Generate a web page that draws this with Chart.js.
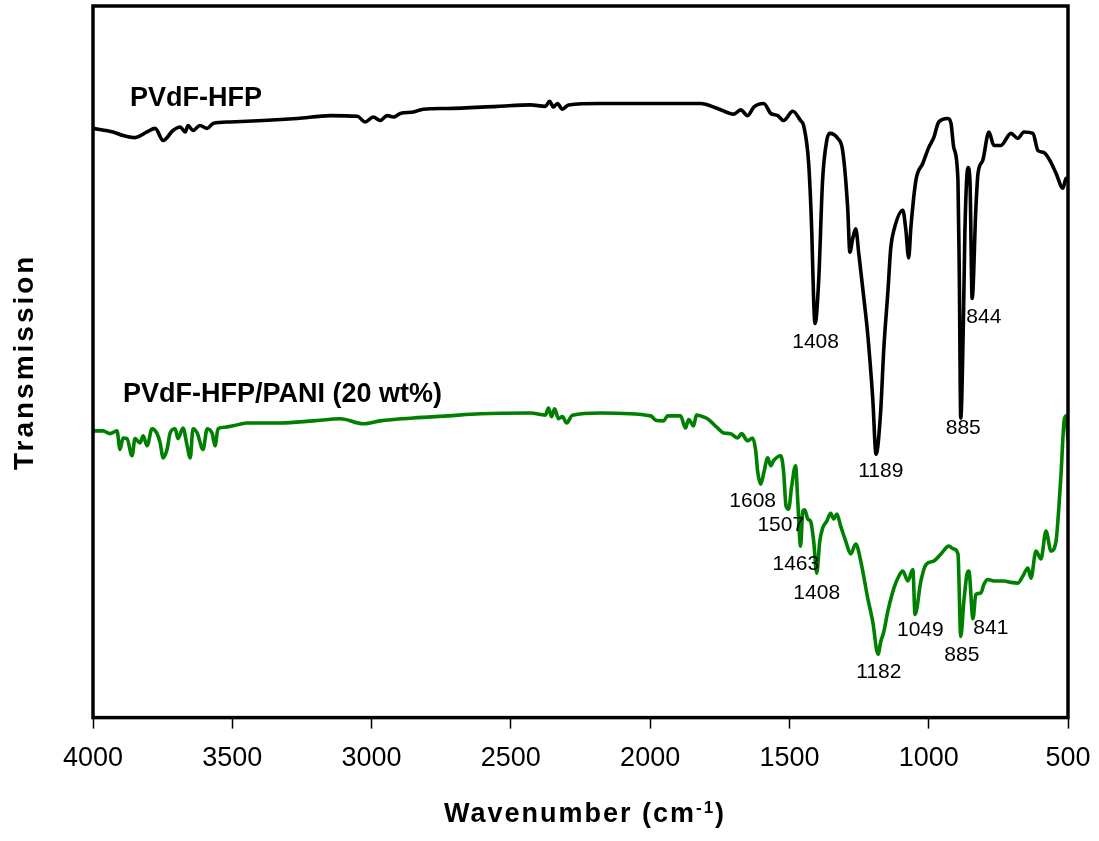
<!DOCTYPE html>
<html>
<head>
<meta charset="utf-8">
<script src="https://cdn.jsdelivr.net/npm/chart.js@4.4.1/dist/chart.umd.min.js"></script>
<style>
  html, body { margin: 0; padding: 0; background: #fff; }
  #wrap { width: 1099px; height: 841px; }
</style>
</head>
<body>
<div id="wrap"><canvas id="ftir" width="1099" height="841"></canvas></div>
<script>
// FTIR spectra, wavenumber (cm-1) vs transmission (arbitrary units, 0-100 on the hidden axis)
const pvdfWn = [4000, 3928, 3892, 3849, 3806, 3777, 3748, 3713, 3687, 3669, 3659, 3641, 3616, 3590, 3569, 3508, 3389, 3267, 3148, 3051,
  3023, 2994, 2969, 2944, 2922, 2897, 2850, 2814, 2728, 2548, 2430, 2376, 2361, 2347, 2333, 2315, 2293, 2178, 1855, 1819,
  1758, 1700, 1675, 1650, 1628, 1592, 1567, 1542, 1521, 1488, 1460, 1449, 1431, 1420, 1413, 1408, 1395, 1381, 1366, 1355,
  1327, 1309, 1291, 1283, 1273, 1262, 1251, 1233, 1219, 1201, 1189, 1173, 1161, 1147, 1136, 1125, 1093, 1082, 1072, 1064,
  1046, 1021, 1000, 982, 964, 931, 920, 910, 895, 890, 885, 875, 870, 859, 852, 844, 831, 823, 806, 784,
  766, 741, 705, 680, 658, 626, 608, 586, 561, 543, 518, 507, 500];
const pvdfT = [82.8, 82.3, 81.8, 81.5, 82.3, 82.8, 81.1, 82.5, 83.0, 82.3, 83.2, 82.5, 83.2, 82.8, 83.5, 83.7, 83.9, 84.2, 84.6, 84.5,
  83.7, 84.4, 83.9, 84.6, 84.4, 84.9, 85.1, 85.5, 85.6, 85.9, 86.1, 85.9, 86.6, 85.8, 86.3, 85.5, 86.1, 86.3, 86.3, 86.3,
  85.6, 84.8, 85.4, 84.6, 85.8, 86.3, 84.9, 84.6, 83.9, 85.2, 83.9, 83.2, 77.9, 68.5, 58.6, 55.4, 61.4, 75.5, 81.1, 82.1,
  81.4, 79.7, 71.7, 65.4, 67.3, 68.7, 65.2, 59.0, 53.9, 44.9, 37.0, 42.7, 52.0, 59.6, 66.1, 68.5, 71.3, 68.5, 64.6, 68.9,
  75.5, 77.9, 80.1, 81.5, 83.7, 84.2, 83.5, 80.1, 75.5, 61.4, 42.1, 56.8, 68.5, 77.3, 75.5, 58.9, 71.3, 76.5, 78.3, 82.3,
  80.4, 80.4, 82.1, 81.4, 82.3, 82.1, 79.7, 79.4, 78.0, 76.5, 74.4, 75.8, 75.4];

const paniWn = [4000, 3964, 3939, 3914, 3903, 3892, 3878, 3860, 3849, 3831, 3820, 3806, 3788, 3770, 3759, 3748, 3734, 3723, 3705, 3695,
  3677, 3662, 3651, 3641, 3626, 3605, 3590, 3572, 3562, 3551, 3526, 3497, 3447, 3328, 3209, 3112, 3030, 2969, 2850, 2728,
  2609, 2430, 2376, 2365, 2354, 2343, 2329, 2315, 2300, 2279, 2178, 1998, 1980, 1952, 1937, 1891, 1873, 1862, 1844, 1834,
  1819, 1794, 1758, 1736, 1711, 1686, 1672, 1650, 1632, 1621, 1614, 1603, 1592, 1578, 1567, 1557, 1531, 1521, 1512, 1503,
  1492, 1478, 1470, 1460, 1452, 1445, 1434, 1424, 1413, 1402, 1391, 1381, 1366, 1352, 1341, 1330, 1316, 1298, 1280, 1262,
  1244, 1219, 1201, 1182, 1172, 1161, 1147, 1125, 1107, 1093, 1075, 1057, 1049, 1028, 1010, 982, 956, 928, 910, 895,
  885, 874, 863, 856, 841, 831, 813, 802, 788, 766, 730, 705, 680, 662, 644, 633, 615, 597, 579, 561,
  543, 532, 525, 514, 507, 500];
const paniT = [40.3, 40.3, 39.9, 40.3, 37.7, 39.3, 39.2, 36.8, 39.2, 38.6, 39.6, 38.2, 40.6, 39.9, 38.6, 36.5, 37.7, 40.0, 40.6, 39.2,
  40.7, 38.2, 36.5, 40.6, 40.0, 37.7, 40.6, 39.9, 38.2, 40.6, 40.8, 41.0, 41.4, 41.4, 41.7, 42.0, 41.3, 41.7, 42.1, 42.4,
  42.7, 42.8, 42.5, 43.5, 42.3, 43.4, 42.0, 42.3, 41.4, 42.5, 42.8, 42.4, 41.8, 41.7, 42.4, 42.4, 40.7, 41.9, 41.0, 42.5,
  42.4, 42.0, 40.7, 40.0, 39.9, 39.3, 39.9, 38.9, 39.3, 37.5, 34.6, 32.8, 34.4, 36.5, 35.4, 36.1, 36.8, 34.6, 29.7, 29.3,
  32.5, 35.4, 30.4, 24.1, 29.0, 29.2, 27.9, 27.6, 24.8, 20.3, 24.8, 26.6, 27.6, 28.7, 27.9, 28.6, 26.9, 24.8, 23.0, 24.4,
  22.0, 16.8, 13.5, 8.9, 10.7, 12.1, 14.9, 18.2, 19.9, 20.6, 19.2, 20.8, 14.5, 19.2, 21.5, 22.0, 23.0, 24.1, 23.7, 23.0,
  11.4, 16.3, 20.1, 20.6, 13.9, 17.3, 17.5, 18.7, 19.4, 19.2, 19.2, 19.0, 18.9, 19.9, 21.0, 19.6, 23.4, 22.3, 26.2, 23.4,
  24.8, 30.0, 34.2, 41.7, 42.4, 38.9];

const seriesNames = ['PVdF-HFP', 'PVdF-HFP/PANI (20 wt%)'];
const seriesColors = ['#000000', '#008000'];
const seriesNamePos = [{ wn: 3867, t: 85.9 }, { wn: 3892, t: 44.4 }];

// peak annotations: text, wavenumber, transmission at text centre
const peakText = ['1408', '1189', '885', '844', '1608', '1507', '1463', '1408', '1182', '1049', '885', '841'];
const peakWn = [1406, 1172, 876, 802, 1632, 1531, 1477, 1402, 1179, 1030, 881, 777];
const peakT = [52.8, 34.6, 40.6, 56.2, 30.4, 27.0, 21.5, 17.5, 6.4, 12.3, 8.7, 12.6];

const FONT = '"Liberation Sans", Arial, Helvetica, sans-serif';

function toPoints(wn, t) {
  return wn.map((w, i) => ({ x: w, y: t[i] }));
}

const annotate = {
  id: 'annotate',
  afterDatasetsDraw(chart) {
    const { ctx, chartArea: a, scales } = chart;
    const x = scales.x, y = scales.y;
    ctx.save();
    ctx.strokeStyle = '#000';
    ctx.lineWidth = 3.5;
    ctx.strokeRect(a.left, a.top, a.right - a.left, a.bottom - a.top);

    ctx.fillStyle = '#000';
    ctx.font = '21px ' + FONT;
    ctx.textAlign = 'center';
    ctx.textBaseline = 'middle';
    peakText.forEach((s, i) => {
      ctx.fillText(s, x.getPixelForValue(peakWn[i]), y.getPixelForValue(peakT[i]));
    });

    ctx.font = 'bold 27px ' + FONT;
    ctx.textAlign = 'left';
    ctx.textBaseline = 'alphabetic';
    seriesNames.forEach((s, i) => {
      ctx.fillText(s, x.getPixelForValue(seriesNamePos[i].wn), y.getPixelForValue(seriesNamePos[i].t));
    });

    // y axis title
    ctx.save();
    ctx.translate(33, (a.top + a.bottom) / 2);
    ctx.rotate(-Math.PI / 2);
    ctx.font = 'bold 28px ' + FONT;
    ctx.letterSpacing = '3px';
    ctx.textAlign = 'center';
    ctx.fillText('Transmission', 0, 0);
    ctx.restore();

    // x axis title with superscript
    ctx.letterSpacing = '2px';
    ctx.font = 'bold 27px ' + FONT;
    const main = 'Wavenumber (cm';
    const wMain = ctx.measureText(main).width;
    const wClose = ctx.measureText(')').width;
    ctx.font = 'bold 17px ' + FONT;
    const wSup = ctx.measureText('-1').width;
    let sx = 585 - (wMain + wSup + wClose) / 2;
    const base = 822;
    ctx.font = 'bold 27px ' + FONT;
    ctx.fillText(main, sx, base);
    sx += wMain;
    ctx.font = 'bold 17px ' + FONT;
    ctx.fillText('-1', sx, base - 9);
    sx += wSup;
    ctx.font = 'bold 27px ' + FONT;
    ctx.fillText(')', sx, base);
    ctx.restore();
  }
};

new Chart(document.getElementById('ftir'), {
  type: 'line',
  data: {
    datasets: [
      { label: seriesNames[0], data: toPoints(pvdfWn, pvdfT), borderColor: seriesColors[0], borderWidth: 3.6, pointRadius: 0, cubicInterpolationMode: 'monotone', borderJoinStyle: 'round', borderCapStyle: 'round' },
      { label: seriesNames[1], data: toPoints(paniWn, paniT), borderColor: seriesColors[1], borderWidth: 3.6, pointRadius: 0, cubicInterpolationMode: 'monotone', borderJoinStyle: 'round', borderCapStyle: 'round' },
    ],
  },
  options: {
    responsive: false,
    devicePixelRatio: 1,
    animation: false,
    layout: { padding: { left: 93, right: 31, top: 6, bottom: 52 } },
    plugins: { legend: { display: false }, tooltip: { enabled: false } },
    scales: {
      x: {
        type: 'linear',
        reverse: true,
        min: 500,
        max: 4000,
        ticks: { stepSize: 500, color: '#000', font: { family: FONT, size: 27 }, padding: 14, maxRotation: 0, callback: (v) => String(v) },
        grid: { display: true, drawOnChartArea: false, drawTicks: true, tickLength: 11, tickWidth: 1.5, tickColor: '#000' },
        border: { display: false },
        afterFit: (scale) => { scale.paddingLeft = 0; scale.paddingRight = 0; },
      },
      y: { display: false, min: 0, max: 100 },
    },
  },
  plugins: [annotate],
});
</script>
</body>
</html>
